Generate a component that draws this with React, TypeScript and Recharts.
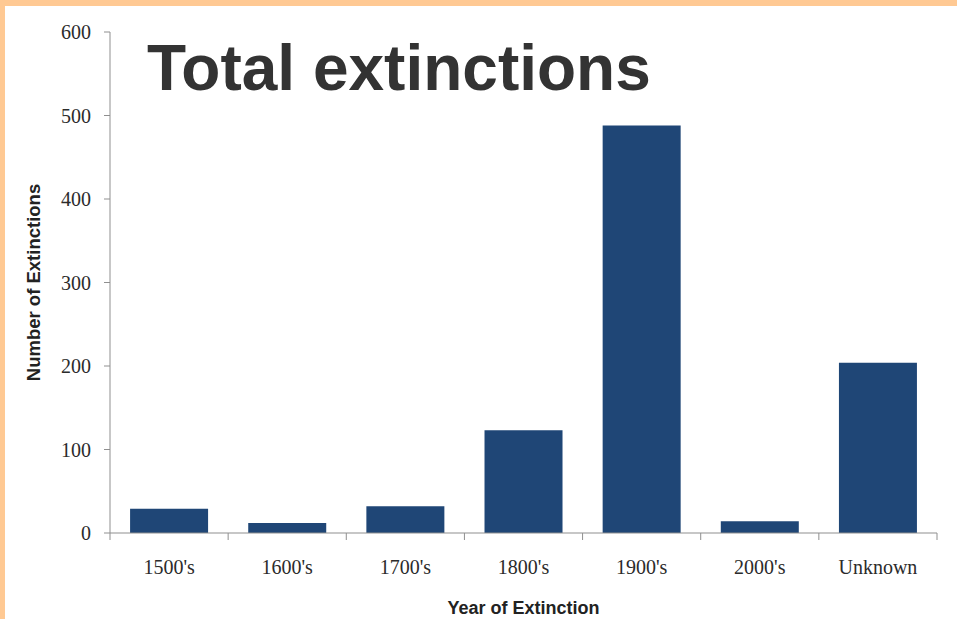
import React from 'react';
import { BarChart, Bar, XAxis, YAxis, Label } from 'recharts';

// extinctions per period
const periods = ["1500's", "1600's", "1700's", "1800's", "1900's", "2000's", 'Unknown'];
const extinctions = [29, 12, 32, 123, 488, 14, 204];
const yTicks = [0, 100, 200, 300, 400, 500, 600];

const data = periods.map((period, i) => ({ period, count: extinctions[i] }));

const W = 957;
const H = 619;
const AXIS_COLOR = '#8f8f8f';
const BAR_COLOR = '#1F4676';
const SERIF = '"Liberation Serif", "Times New Roman", serif';
const SANS = '"Liberation Sans", Arial, sans-serif';

// Excel-style x axis: ticks sit between the categories, not under them
const PeriodTick = (props: any) => {
  const { x, y, payload, index } = props;
  const half = payload && payload.offset ? payload.offset : 827 / 7 / 2;
  const last = index === periods.length - 1;
  return (
    <g>
      <line x1={x - half} x2={x - half} y1={y} y2={y + 7} stroke={AXIS_COLOR} />
      {last && <line x1={x + half} x2={x + half} y1={y} y2={y + 7} stroke={AXIS_COLOR} />}
      <text x={x} y={y + 41} textAnchor="middle" fontFamily={SERIF} fontSize={20} fill="#2b2b2b">
        {payload.value}
      </text>
    </g>
  );
};

const YTitle = (props: any) => {
  const { viewBox } = props;
  const cx = 33;
  const cy = viewBox.y + viewBox.height / 2;
  return (
    <text
      x={cx}
      y={cy}
      transform={`rotate(-90 ${cx} ${cy})`}
      textAnchor="middle"
      dominantBaseline="central"
      fontFamily={SANS}
      fontWeight="bold"
      fontSize={18.5}
      fill="#222"
    >
      Number of Extinctions
    </text>
  );
};

export default function App() {
  return (
    <div style={{ position: 'absolute', left: 0, top: 0, width: W, height: H, background: '#fff', overflow: 'hidden' }}>
      <BarChart
        width={W}
        height={H}
        data={data}
        margin={{ top: 32, right: 20, bottom: 0, left: 0 }}
        barCategoryGap="17%"
      >
        <XAxis
          dataKey="period"
          height={86}
          stroke={AXIS_COLOR}
          tickLine={false}
          tickSize={0}
          tickMargin={0}
          tick={<PeriodTick />}
          interval={0}
        >
          <Label
            value="Year of Extinction"
            position="insideBottom"
            offset={5}
            style={{ fontFamily: SANS, fontWeight: 'bold', fontSize: 18, fill: '#222' }}
          />
        </XAxis>
        <YAxis
          width={110}
          domain={[0, 600]}
          ticks={yTicks}
          interval={0}
          stroke={AXIS_COLOR}
          tickSize={6}
          tickMargin={13}
          tick={{ fontFamily: SERIF, fontSize: 20, fill: '#2b2b2b' }}
        >
          <Label content={<YTitle />} />
        </YAxis>
        <Bar dataKey="count" fill={BAR_COLOR} isAnimationActive={false} />
      </BarChart>
      <div
        style={{
          position: 'absolute',
          left: 147,
          top: 32,
          fontFamily: SANS,
          fontWeight: 'bold',
          fontSize: 64,
          lineHeight: '72px',
          color: '#333',
          whiteSpace: 'nowrap',
        }}
      >
        Total extinctions
      </div>
      <div style={{ position: 'absolute', left: 0, top: 0, width: W, height: 6, background: '#FFC993' }} />
      <div style={{ position: 'absolute', left: 0, top: 0, width: 5, height: H, background: '#FFC993' }} />
    </div>
  );
}
